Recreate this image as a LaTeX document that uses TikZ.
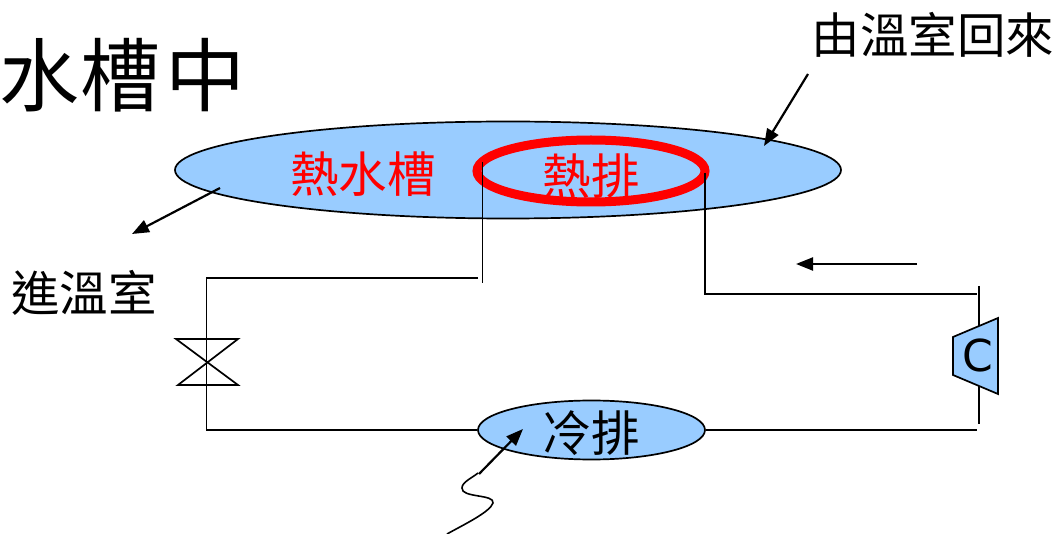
\documentclass[tikz,border=0pt]{standalone}
\usepackage{fontspec}
\setmainfont{DejaVu Sans}
\newfontfamily\cjk{Noto Sans CJK TC}
\usetikzlibrary{arrows.meta,shapes.geometric}
\definecolor{fillblue}{RGB}{153,204,255}
\tikzset{
  wire/.style={draw=black,line width=1.7pt},
  pointer/.style={draw=black,line width=2.2pt,-{Triangle[length=17pt,width=13pt]}},
  lab/.style={font=\cjk\fontsize{48.5}{48.5}\selectfont,inner sep=0pt,text=black},
  biglab/.style={font=\cjk\fontsize{80}{80}\selectfont,inner sep=0pt,text=black},
  redlab/.style={lab,text=red},
  disc/.style={ellipse,draw=black,line width=1.7pt,fill=fillblue,inner sep=0pt}
}
\begin{document}
\begin{tikzpicture}[x=1pt,y=-1pt]
\useasboundingbox (0,0) rectangle (1055,534);
% title
\node[biglab] (t1) at (39,75) {水};
\node[biglab] (t2) at (120,75) {槽};
\node[biglab] (t3) at (205,75) {中};
\node[lab] (back) at (933,35) {由溫室回來};
\node[lab] (enter) at (84,293) {進溫室};
% tank
\node[disc,minimum width=666pt,minimum height=97pt] (tank) at (508,170) {};
\node[redlab] (tanklab) at (363,174) {熱水槽};
\node[ellipse,draw=red,line width=9pt,inner sep=0pt,minimum width=228pt,minimum height=62pt] (hot) at (591,171) {};
\node[redlab] (hotlab) at (591,176) {熱排};
% cold
\node[disc,minimum width=227pt,minimum height=59pt] (cold) at (591.5,430) {};
\node[lab] (coldlab) at (591,433) {冷排};
% wires
\coordinate (h1) at (482.5,162);
\coordinate (h1b) at (482.5,283);
\coordinate (h2) at (705,173);
\coordinate (h2b) at (705,294);
\coordinate (l1) at (478,278);
\coordinate (c1) at (206.5,278);
\coordinate (c2) at (206.5,430);
\coordinate (c3) at (977,294);
\coordinate (c4) at (977,430);
\coordinate (comtop) at (979,286);
\coordinate (combot) at (979,424);
\draw[wire] (h1) -- (h1b);
\draw[wire] (l1) -- (c1) -- (c2) -- (cold.west);
\draw[wire] (h2) -- (h2b) -- (c3);
\draw[wire] (cold.east) -- (c4);
\draw[wire] (comtop) -- (combot);
% valve
\coordinate (v1) at (176,339);
\coordinate (v2) at (238,339);
\coordinate (v3) at (178,385);
\coordinate (v4) at (238,385);
\draw[wire] (v1) -- (v2) -- (v3) -- (v4) -- cycle;
% compressor
\coordinate (k1) at (953,337);
\coordinate (k2) at (998,318);
\coordinate (k3) at (998,394);
\coordinate (k4) at (953,375);
\draw[wire,fill=fillblue] (k1) -- (k2) -- (k3) -- (k4) -- cycle;
\node[inner sep=0pt,font=\fontsize{44}{44}\selectfont] (cmp) at (978,355) {C};
% arrows
\coordinate (a1s) at (808,74);
\coordinate (a1e) at (764,146);
\draw[pointer] (a1s) -- (a1e);
\coordinate (a2s) at (220,188);
\coordinate (a2e) at (132,234);
\draw[pointer] (a2s) -- (a2e);
\coordinate (a3s) at (917,264);
\coordinate (a3e) at (796,264);
\draw[pointer] (a3s) -- (a3e);
\coordinate (a4s) at (479,474);
\coordinate (a4e) at (523,429);
\draw[pointer] (a4s) -- (a4e);
\coordinate (w0) at (447,534);
\coordinate (w1) at (493,503);
\coordinate (w2) at (462,488);
\coordinate (w3) at (478,473);
\draw[line width=1.6pt] (w0) .. controls (465,524) and (490,512) .. (w1)
  .. controls (495,494) and (461,498) .. (w2)
  .. controls (462,482) and (472,478) .. (w3);
\end{tikzpicture}
\end{document}
